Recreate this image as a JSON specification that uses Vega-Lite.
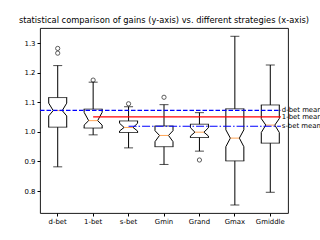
{
  "$schema": "https://vega.github.io/schema/vega-lite/v6.json",
  "autosize": "none",
  "padding": {"left": 40, "top": 28, "right": 32, "bottom": 27},
  "width": 248,
  "height": 185,
  "title": {"text": "statistical comparison of gains (y-axis) vs. different strategies (x-axis)", "fontSize": 8.3, "font": "DejaVu Sans", "fontWeight": "normal", "anchor": "middle", "offset": 4, "color": "black"},
  "config": {
    "view": {"stroke": "black", "strokeWidth": 0.9},
    "axis": {"labelFont": "DejaVu Sans", "labelFontSize": 6.9, "labelColor": "black", "tickColor": "black", "tickSize": 3, "labelPadding": 2, "domain": false, "grid": false, "title": null, "labelOverlap": false}
  },
  "datasets": {
    "boxes": [
      {"strategy": "d-bet", "whiLo": 0.882, "q1": 1.016, "nLo": 1.054, "med": 1.072, "nHi": 1.097, "q3": 1.116, "whiHi": 1.224},
      {"strategy": "1-bet", "whiLo": 0.990, "q1": 1.013, "nLo": 1.023, "med": 1.038, "nHi": 1.066, "q3": 1.077, "whiHi": 1.168},
      {"strategy": "s-bet", "whiLo": 0.946, "q1": 0.998, "nLo": 1.003, "med": 1.015, "nHi": 1.029, "q3": 1.037, "whiHi": 1.085},
      {"strategy": "Gmin", "whiLo": 0.890, "q1": 0.950, "nLo": 0.967, "med": 0.988, "nHi": 1.004, "q3": 1.020, "whiHi": 1.092},
      {"strategy": "Grand", "whiLo": 0.935, "q1": 0.981, "nLo": 0.986, "med": 0.999, "nHi": 1.014, "q3": 1.026, "whiHi": 1.065},
      {"strategy": "Gmax", "whiLo": 0.753, "q1": 0.902, "nLo": 0.950, "med": 0.979, "nHi": 1.007, "q3": 1.078, "whiHi": 1.323},
      {"strategy": "Gmiddle", "whiLo": 0.796, "q1": 0.962, "nLo": 0.998, "med": 1.023, "nHi": 1.045, "q3": 1.091, "whiHi": 1.226}
    ],
    "outliers": [
      {"strategy": "d-bet", "value": 1.282},
      {"strategy": "d-bet", "value": 1.266},
      {"strategy": "1-bet", "value": 1.175},
      {"strategy": "s-bet", "value": 1.095},
      {"strategy": "Gmin", "value": 1.117},
      {"strategy": "Grand", "value": 0.905}
    ],
    "means": [
      {"strategy": "d-bet", "value": 1.073, "label": "d-bet mean"},
      {"strategy": "1-bet", "value": 1.051, "label": "1-bet mean"},
      {"strategy": "s-bet", "value": 1.019, "label": "s-bet mean"}
    ]
  },
  "encoding": {
    "x": {"field": "strategy", "type": "nominal", "bandPosition": 0.5,
      "scale": {"domain": ["d-bet", "1-bet", "s-bet", "Gmin", "Grand", "Gmax", "Gmiddle"], "paddingInner": 0, "paddingOuter": 0},
      "axis": {"labelAngle": 0}}
  },
  "layer": [
    {"data": {"name": "boxes"}, "mark": {"type": "rule", "color": "black", "strokeWidth": 1},
     "encoding": {"y": {"field": "q3", "type": "quantitative", "scale": {"domain": [0.726, 1.351], "nice": false, "zero": false}, "axis": {"values": [0.8, 0.9, 1.0, 1.1, 1.2, 1.3], "format": ".1f"}}, "y2": {"field": "whiHi"}}},
    {"data": {"name": "boxes"}, "mark": {"type": "rule", "color": "black", "strokeWidth": 1},
     "encoding": {"y": {"field": "whiLo", "type": "quantitative", "axis": {"values": [0.8, 0.9, 1.0, 1.1, 1.2, 1.3], "format": ".1f"}}, "y2": {"field": "q1"}}},
    {"data": {"name": "boxes"}, "mark": {"type": "tick", "orient": "horizontal", "color": "black", "size": 9, "thickness": 1},
     "encoding": {"y": {"field": "whiHi", "type": "quantitative", "axis": {"values": [0.8, 0.9, 1.0, 1.1, 1.2, 1.3], "format": ".1f"}}}},
    {"data": {"name": "boxes"}, "mark": {"type": "tick", "orient": "horizontal", "color": "black", "size": 9, "thickness": 1},
     "encoding": {"y": {"field": "whiLo", "type": "quantitative", "axis": {"values": [0.8, 0.9, 1.0, 1.1, 1.2, 1.3], "format": ".1f"}}}},
    {"data": {"name": "boxes"}, "mark": {"type": "tick", "orient": "horizontal", "color": "black", "size": 19, "thickness": 1},
     "encoding": {"y": {"field": "q3", "type": "quantitative", "axis": {"values": [0.8, 0.9, 1.0, 1.1, 1.2, 1.3], "format": ".1f"}}}},
    {"data": {"name": "boxes"}, "mark": {"type": "tick", "orient": "horizontal", "color": "black", "size": 19, "thickness": 1},
     "encoding": {"y": {"field": "q1", "type": "quantitative", "axis": {"values": [0.8, 0.9, 1.0, 1.1, 1.2, 1.3], "format": ".1f"}}}},
    {"data": {"name": "boxes"}, "mark": {"type": "rule", "color": "black", "strokeWidth": 1, "xOffset": -9},
     "encoding": {"y": {"field": "nHi", "type": "quantitative", "axis": {"values": [0.8, 0.9, 1.0, 1.1, 1.2, 1.3], "format": ".1f"}}, "y2": {"field": "q3"}}},
    {"data": {"name": "boxes"}, "mark": {"type": "rule", "color": "black", "strokeWidth": 1, "xOffset": 9},
     "encoding": {"y": {"field": "nHi", "type": "quantitative", "axis": {"values": [0.8, 0.9, 1.0, 1.1, 1.2, 1.3], "format": ".1f"}}, "y2": {"field": "q3"}}},
    {"data": {"name": "boxes"}, "mark": {"type": "rule", "color": "black", "strokeWidth": 1, "xOffset": -9},
     "encoding": {"y": {"field": "q1", "type": "quantitative", "axis": {"values": [0.8, 0.9, 1.0, 1.1, 1.2, 1.3], "format": ".1f"}}, "y2": {"field": "nLo"}}},
    {"data": {"name": "boxes"}, "mark": {"type": "rule", "color": "black", "strokeWidth": 1, "xOffset": 9},
     "encoding": {"y": {"field": "q1", "type": "quantitative", "axis": {"values": [0.8, 0.9, 1.0, 1.1, 1.2, 1.3], "format": ".1f"}}, "y2": {"field": "nLo"}}},
    {"data": {"name": "boxes"}, "mark": {"type": "rule", "color": "black", "strokeWidth": 1, "xOffset": -9, "x2Offset": -4.5},
     "encoding": {"x2": {"field": "strategy", "bandPosition": 0.5}, "y": {"field": "nHi", "type": "quantitative", "axis": {"values": [0.8, 0.9, 1.0, 1.1, 1.2, 1.3], "format": ".1f"}}, "y2": {"field": "med"}}},
    {"data": {"name": "boxes"}, "mark": {"type": "rule", "color": "black", "strokeWidth": 1, "xOffset": 9, "x2Offset": 4.5},
     "encoding": {"x2": {"field": "strategy", "bandPosition": 0.5}, "y": {"field": "nHi", "type": "quantitative", "axis": {"values": [0.8, 0.9, 1.0, 1.1, 1.2, 1.3], "format": ".1f"}}, "y2": {"field": "med"}}},
    {"data": {"name": "boxes"}, "mark": {"type": "rule", "color": "black", "strokeWidth": 1, "xOffset": -9, "x2Offset": -4.5},
     "encoding": {"x2": {"field": "strategy", "bandPosition": 0.5}, "y": {"field": "nLo", "type": "quantitative", "axis": {"values": [0.8, 0.9, 1.0, 1.1, 1.2, 1.3], "format": ".1f"}}, "y2": {"field": "med"}}},
    {"data": {"name": "boxes"}, "mark": {"type": "rule", "color": "black", "strokeWidth": 1, "xOffset": 9, "x2Offset": 4.5},
     "encoding": {"x2": {"field": "strategy", "bandPosition": 0.5}, "y": {"field": "nLo", "type": "quantitative", "axis": {"values": [0.8, 0.9, 1.0, 1.1, 1.2, 1.3], "format": ".1f"}}, "y2": {"field": "med"}}},
    {"data": {"name": "boxes"}, "mark": {"type": "tick", "orient": "horizontal", "color": "#ff7f0e", "size": 9, "thickness": 1},
     "encoding": {"y": {"field": "med", "type": "quantitative", "axis": {"values": [0.8, 0.9, 1.0, 1.1, 1.2, 1.3], "format": ".1f"}}}},
    {"data": {"name": "outliers"}, "mark": {"type": "point", "shape": "circle", "filled": false, "color": "black", "strokeWidth": 0.9, "size": 18},
     "encoding": {"y": {"field": "value", "type": "quantitative", "axis": {"values": [0.8, 0.9, 1.0, 1.1, 1.2, 1.3], "format": ".1f"}}}},
    {"data": {"values": [{"strategy": "d-bet", "value": 1.073}]}, "mark": {"type": "rule", "color": "#0000ff", "strokeWidth": 1.2, "strokeDash": [4.5, 2], "xOffset": -17.7, "x2Offset": 10.6},
     "encoding": {"x2": {"datum": "Gmiddle", "bandPosition": 0.5}, "y": {"field": "value", "type": "quantitative", "axis": {"values": [0.8, 0.9, 1.0, 1.1, 1.2, 1.3], "format": ".1f"}}}},
    {"data": {"values": [{"strategy": "1-bet", "value": 1.051}]}, "mark": {"type": "rule", "color": "#ff0000", "strokeWidth": 1.2, "x2Offset": 10.6},
     "encoding": {"x2": {"datum": "Gmiddle", "bandPosition": 0.5}, "y": {"field": "value", "type": "quantitative", "axis": {"values": [0.8, 0.9, 1.0, 1.1, 1.2, 1.3], "format": ".1f"}}}},
    {"data": {"values": [{"strategy": "s-bet", "value": 1.019}]}, "mark": {"type": "rule", "color": "#0000ff", "strokeWidth": 1.2, "strokeDash": [8, 2, 1.5, 2], "x2Offset": 10.6},
     "encoding": {"x2": {"datum": "Gmiddle", "bandPosition": 0.5}, "y": {"field": "value", "type": "quantitative", "axis": {"values": [0.8, 0.9, 1.0, 1.1, 1.2, 1.3], "format": ".1f"}}}},
    {"data": {"name": "means"}, "mark": {"type": "text", "align": "left", "baseline": "middle", "font": "DejaVu Sans", "fontSize": 6.9, "color": "black", "xOffset": 11.5},
     "encoding": {"x": {"datum": "Gmiddle", "bandPosition": 0.5}, "y": {"field": "value", "type": "quantitative", "axis": {"values": [0.8, 0.9, 1.0, 1.1, 1.2, 1.3], "format": ".1f"}}, "text": {"field": "label"}}}
  ]
}
